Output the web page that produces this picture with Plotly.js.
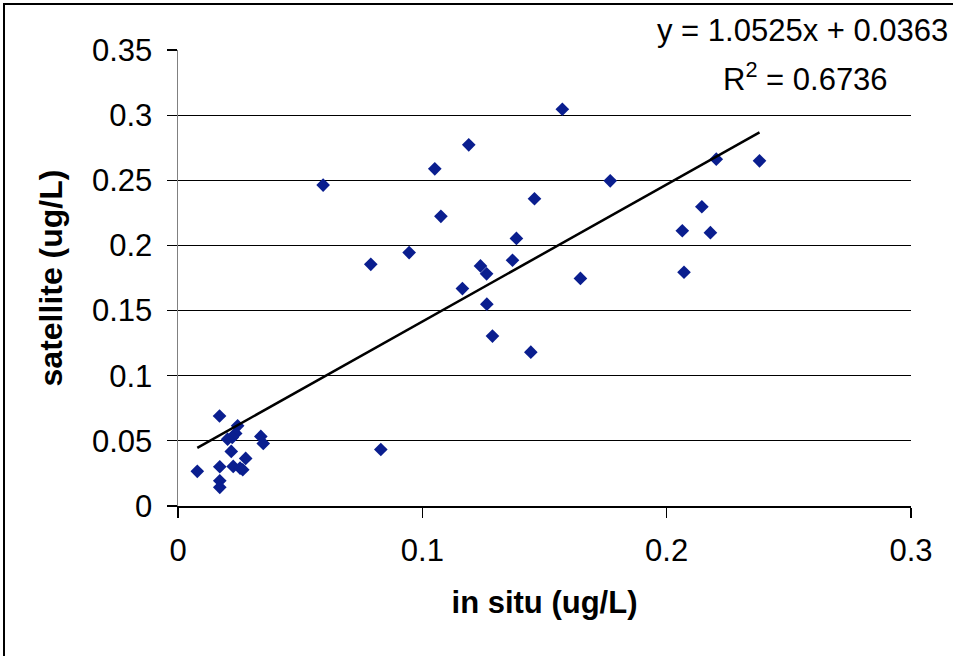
<!DOCTYPE html>
<html>
<head>
<meta charset="utf-8">
<script src="https://cdn.plot.ly/plotly-3.0.1.min.js"></script>
<style>
  html, body { margin: 0; padding: 0; background: #ffffff; }
  #chart { width: 953px; height: 656px; }
</style>
</head>
<body>
<div id="chart"></div>
<script>
// In situ vs satellite values (ug/L)
const inSitu = [
  0.0170, 0.0244, 0.0236, 0.0222, 0.0203, 0.0339, 0.0349, 0.0218, 0.0277,
  0.0079, 0.0171, 0.0226, 0.0254, 0.0265, 0.0171, 0.0171, 0.0830,
  0.1573, 0.1190, 0.1051, 0.0594, 0.1769, 0.2203, 0.2380, 0.1459, 0.1076,
  0.2144, 0.2064, 0.2179, 0.1385, 0.2071, 0.0946, 0.0789, 0.1369, 0.1238,
  0.1263, 0.1647, 0.1164, 0.1264, 0.1287, 0.1444
];
const satellite = [
  0.0691, 0.0615, 0.0557, 0.0526, 0.0513, 0.0534, 0.0480, 0.0419, 0.0365,
  0.0266, 0.0301, 0.0304, 0.0291, 0.0278, 0.0194, 0.0143, 0.0434,
  0.3045, 0.2772, 0.2588, 0.2463, 0.2496, 0.2662, 0.2649, 0.2358, 0.2223,
  0.2297, 0.2113, 0.2098, 0.2054, 0.1794, 0.1945, 0.1855, 0.1886, 0.1843,
  0.1782, 0.1747, 0.1669, 0.1549, 0.1304, 0.1181
];
// Linear fit as printed on the chart
const fitSlope = 1.0525;
const fitIntercept = 0.0363;
const fitR2 = 0.6736;

const xTicks = [0, 0.1, 0.2, 0.3];
const xTickLabels = ['0', '0.1', '0.2', '0.3'];
const yTicks = [0, 0.05, 0.1, 0.15, 0.2, 0.25, 0.3, 0.35];
const yTickLabels = ['0', '0.05', '0.1', '0.15', '0.2', '0.25', '0.3', '0.35'];

const xMin = Math.min(...inSitu), xMax = Math.max(...inSitu);
const trendX = [xMin, xMax];
const trendY = trendX.map(v => fitSlope * v + fitIntercept);

const FONT = '"Liberation Sans", Arial, sans-serif';
const FS = 31;

const traces = [
  {
    x: inSitu, y: satellite, type: 'scatter', mode: 'markers',
    marker: { symbol: 'diamond', size: 10.5, color: '#0A1E8F', line: { width: 0 } },
    showlegend: false, hoverinfo: 'x+y'
  },
  {
    x: trendX, y: trendY, type: 'scatter', mode: 'lines',
    line: { color: '#000000', width: 2.5 },
    showlegend: false, hoverinfo: 'skip'
  }
];

const PL = 178, PR = 42, PT = 50, PB = 150;
const plotW = 953 - PL - PR, plotH = 656 - PT - PB;

const layout = {
  width: 953, height: 656,
  margin: { l: PL, r: PR, t: PT, b: PB, pad: 0 },
  paper_bgcolor: '#ffffff', plot_bgcolor: '#ffffff',
  font: { family: FONT, size: FS, color: '#000000' },
  xaxis: {
    range: [0, 0.3], tickmode: 'array', tickvals: xTicks, ticktext: xTickLabels,
    showgrid: false, zeroline: false,
    showline: true, linecolor: '#000000', linewidth: 1.5,
    ticks: 'outside', ticklen: 10, tickcolor: '#000000', tickwidth: 1.5,
    ticklabelstandoff: 6,
    tickfont: { family: FONT, size: FS, color: '#000000' },
    title: { text: '<b>in situ (ug/L)</b>', font: { family: FONT, size: FS, color: '#000000' }, standoff: 24 },
    fixedrange: true
  },
  yaxis: {
    range: [0, 0.35], tickmode: 'array', tickvals: yTicks, ticktext: yTickLabels,
    showgrid: true, gridcolor: '#000000', gridwidth: 1.2,
    zeroline: false,
    showline: true, linecolor: '#808080', linewidth: 1.5,
    ticks: 'outside', ticklen: 10, tickcolor: '#000000', tickwidth: 1.2,
    ticklabelstandoff: 8,
    tickfont: { family: FONT, size: FS, color: '#000000' },
    title: { text: '<b>satellite (ug/L)</b>', font: { family: FONT, size: 32, color: '#000000' }, standoff: 20 },
    fixedrange: true
  },
  annotations: [
    {
      xref: 'paper', yref: 'paper',
      x: (802 - PL) / plotW, y: (656 - PB - 31) / plotH,
      xanchor: 'center', yanchor: 'middle', showarrow: false,
      text: 'y = ' + fitSlope.toFixed(4) + 'x + ' + fitIntercept.toFixed(4),
      font: { family: FONT, size: FS, color: '#000000' }
    },
    {
      xref: 'paper', yref: 'paper',
      x: (805 - PL) / plotW, y: (656 - PB - 77) / plotH,
      xanchor: 'center', yanchor: 'middle', showarrow: false,
      text: 'R<sup>2</sup> = ' + fitR2.toFixed(4),
      font: { family: FONT, size: FS, color: '#000000' }
    }
  ],
  shapes: [
    {
      type: 'rect', xref: 'paper', yref: 'paper',
      x0: (4 - PL) / plotW, x1: 1.3,
      y0: -0.6, y1: (656 - PB - 4) / plotH,
      line: { color: '#000000', width: 2 }, fillcolor: 'rgba(0,0,0,0)', layer: 'above'
    }
  ]
};

Plotly.newPlot('chart', traces, layout, { staticPlot: true, displayModeBar: false });
</script>
</body>
</html>
